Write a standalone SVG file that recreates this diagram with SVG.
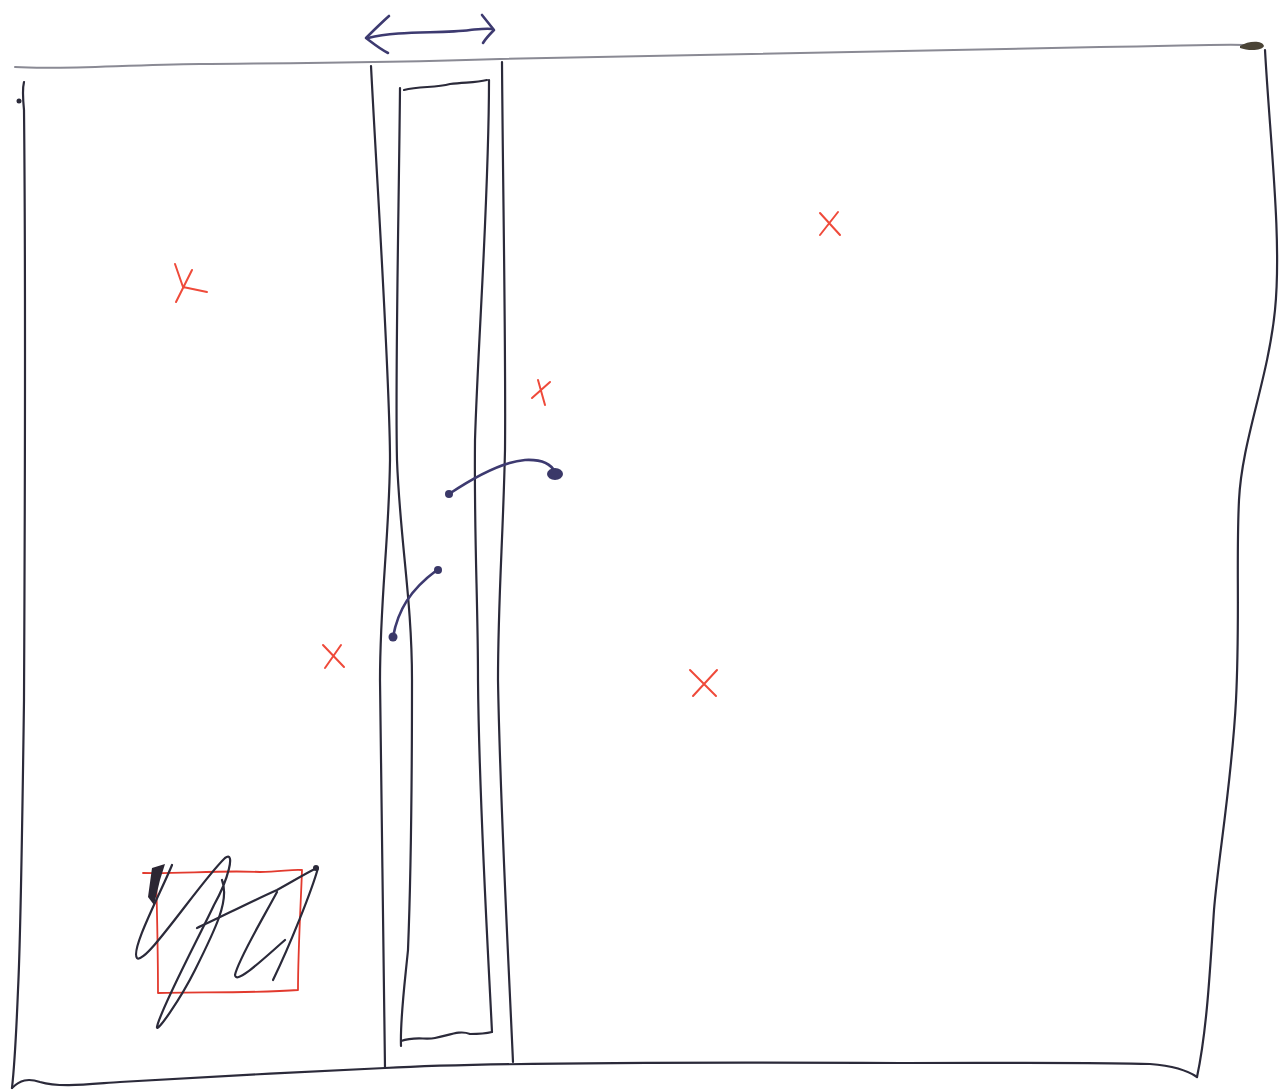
<svg xmlns="http://www.w3.org/2000/svg" width="1286" height="1090" viewBox="0 0 1286 1090">
<style>
.ink{fill:none;stroke:#2b2a3a;stroke-width:2.2;stroke-linecap:round;stroke-linejoin:round}
.blue{fill:none;stroke:#3d3a70;stroke-width:2.6;stroke-linecap:round;stroke-linejoin:round}
.grey{fill:none;stroke:#8a8a94;stroke-width:2;stroke-linecap:round}
.red{fill:none;stroke:#e23a2e;stroke-width:1.8;stroke-linecap:round;stroke-linejoin:round}
.xm{fill:none;stroke:#ef4a3a;stroke-width:2;stroke-linecap:round;stroke-linejoin:round}
.dot{fill:#3a3868}
</style>
<rect width="1286" height="1090" fill="#ffffff"/>
<g id="frame">
<path class="grey" d="M15,67 C60,70 120,65 200,64 C300,63 380,63 500,59 C700,55 900,51 1100,47 C1180,46 1220,44 1245,45"/>
<path d="M1240,46 C1248,41 1262,40 1264,46 C1262,51 1248,51 1240,48 Z" fill="#4a4436"/>
<path class="ink" d="M1265,50 C1270,140 1282,240 1275,310 C1268,380 1242,440 1239,500 C1236,560 1240,620 1236,700 C1232,780 1218,860 1214,910 C1210,970 1207,1030 1197,1077"/>
<path class="ink" d="M24,82 C22,90 23,100 24,110 C26,300 25,500 24,700 C22,850 20,950 18,990 C16,1040 14,1070 12,1088"/>
<circle cx="19" cy="101" r="2.5" fill="#2b2a3a"/>
<path class="ink" d="M12,1088 C20,1080 28,1078 40,1082 C60,1088 90,1084 120,1082 C200,1077 300,1072 385,1068 C500,1062 700,1062 900,1063 C1000,1063 1100,1062 1150,1064 C1175,1066 1190,1072 1197,1077"/>
</g>
<g id="channel">
<path class="ink" d="M371,66 C378,200 390,380 390,460 C389,540 380,600 380,680 C381,800 384,950 385,1068"/>
<path class="ink" d="M502,62 C503,200 506,350 505,450 C503,540 498,600 498,680 C500,800 508,950 513,1062"/>
<path class="ink" d="M404,90 C420,86 435,88 450,84 C465,82 475,83 487,80"/>
<path class="ink" d="M400,88 C399,200 395,380 397,460 C400,540 412,600 412,680 C412,800 410,900 408,950 C404,990 400,1020 401,1046"/>
<path class="ink" d="M489,80 C489,200 478,340 475,440 C474,540 478,600 478,680 C479,800 488,950 492,1032"/>
<path class="ink" d="M401,1041 C415,1036 425,1040 435,1038 C450,1035 460,1030 470,1034 C480,1034 488,1033 492,1032"/>
</g>
<g id="red-box">
<path class="red" d="M143,873 C180,874 220,870 260,872 C280,872 292,869 302,870 C301,900 298,950 298,990 C260,993 200,992 158,993 C158,950 157,910 156,873"/>
</g>
<g id="scribble">
<path d="M152,868 L165,864 L160,880 L154,905 L148,897 Z" fill="#2b2633"/>
<path class="ink" d="M172,865 C162,890 130,950 137,958 C145,966 200,882 225,858 C236,850 228,880 214,905 C200,935 160,1010 157,1027 C156,1034 180,1000 195,970 C215,930 230,900 222,880"/>
<path class="ink" d="M197,928 C215,920 250,902 277,890 C295,880 308,872 317,868"/>
<path class="ink" d="M277,892 C262,920 238,960 235,975 C236,985 262,960 285,940"/>
<path class="ink" d="M318,868 C312,890 290,945 273,980"/>
<circle cx="316" cy="868" r="3" fill="#2b2a3a"/>
</g>
<g id="marks">
<path class="xm" d="M175,264 L183,287 L207,292 M192,270 L176,302"/>
<path class="xm" d="M820,213 L840,235 M838,212 L820,235"/>
<path class="xm" d="M538,380 L545,405 M550,382 L532,398"/>
<path class="xm" d="M323,645 L344,667 M341,645 L325,668"/>
<path class="xm" d="M690,670 L716,696 M717,670 L693,696"/>
</g>
<g id="connectors">
<path class="blue" d="M368,38 C400,30 440,34 470,30 C480,29 487,28 492,29"/>
<path class="blue" d="M389,16 C380,24 372,32 366,38 C374,44 380,49 388,53"/>
<path class="blue" d="M482,15 C486,20 490,25 494,30 C490,34 486,38 483,43" stroke-width="3.5"/>
<path class="blue" d="M449,494 C470,480 500,462 525,460 C545,459 552,466 555,472"/>
<circle class="dot" cx="449" cy="494" r="4"/>
<ellipse class="dot" cx="555" cy="474" rx="8" ry="6"/>
<path class="blue" d="M393,637 C398,610 410,590 437,570"/>
<circle class="dot" cx="393" cy="637" r="4.5"/>
<circle class="dot" cx="438" cy="570" r="4"/>
</g>
</svg>
